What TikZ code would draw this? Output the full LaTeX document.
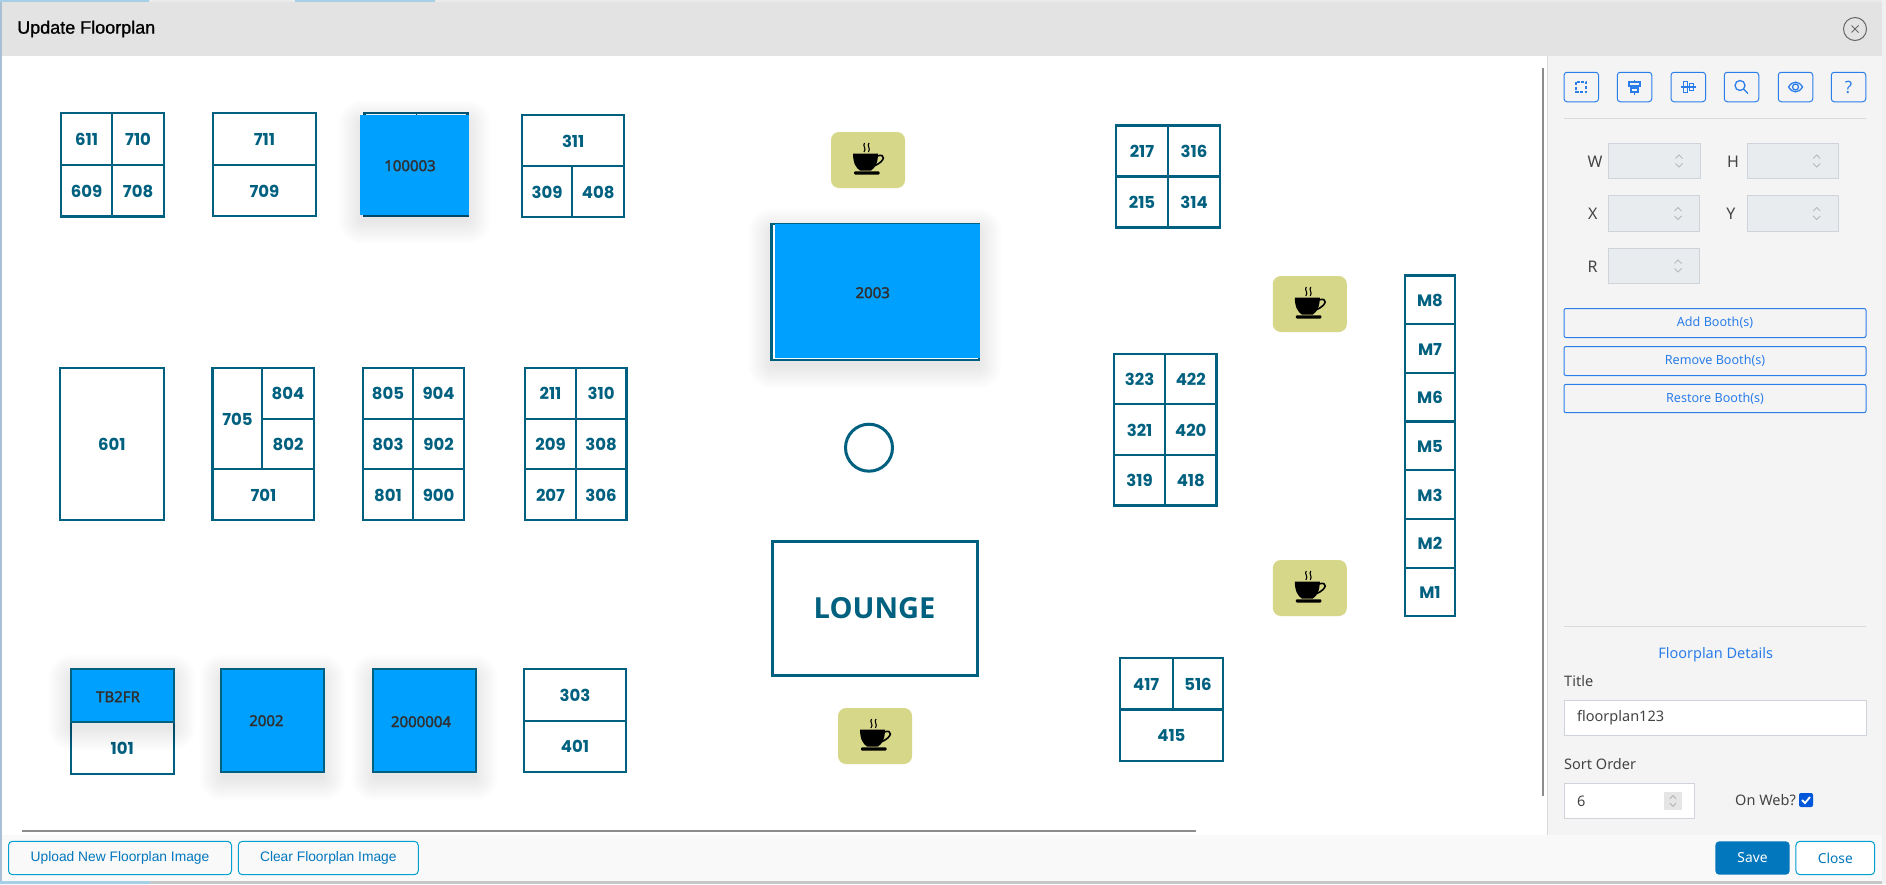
\documentclass[tikz,border=0pt]{standalone}
\usepackage{fontspec}
\setmainfont{Noto Sans}
\newfontfamily\boothfont{Poppins}
\newfontfamily\loungefont{Open Sans}
\newfontfamily\bluefont[FakeBold=2]{Noto Sans}
\newfontfamily\robofont{Liberation Sans}
\newfontfamily\titlefont[FakeBold=1]{Liberation Sans}
\usetikzlibrary{positioning}

\definecolor{boothline}{HTML}{00607F}
\definecolor{boothblue}{HTML}{00A0FF}
\definecolor{tilecolor}{HTML}{D6D788}
\definecolor{panelblue}{HTML}{2B7DE9}
\definecolor{footblue}{HTML}{0277BD}
\definecolor{inputfill}{HTML}{E9ECEF}
\definecolor{inputline}{HTML}{CED4DA}
\definecolor{labelgrey}{HTML}{444444}
\definecolor{edgeblue}{HTML}{A9C0D4}

\newcommand{\fsz}[1]{\fontsize{#1}{#1}\selectfont}
\newcommand{\softshadow}[4]{\foreach \r in {1,2,...,24}{\fill[black,opacity=.0045,rounded corners=\r] (#1-\r,#2-\r+7) rectangle (#3+\r,#4+\r+7);}}

\tikzset{
  booth/.style={draw=boothline,line width=2.2pt,fill=white,inner sep=0pt,text=boothline,text height=13pt,text depth=0pt,font=\boothfont\bfseries\fsz{16.5}},
  cell/.style={minimum width=50.6pt,minimum height=50.6pt,node distance=50.6pt},
  bigcell/.style={minimum width=51.6pt,minimum height=51.6pt,node distance=51.6pt},
  mcell/.style={minimum width=49.7pt,minimum height=48.7pt,node distance=48.7pt},
  wide/.style={minimum width=#1pt,minimum height=51.5pt},
  bluebox/.style={fill=boothblue,inner sep=0pt},
  bluetext/.style={text=labelgrey!70!black,font=\bluefont\fsz{15}},
  tile/.style={fill=tilecolor,rounded corners=8pt,minimum width=74pt,minimum height=56pt,inner sep=0pt},
  iconbtn/.style={draw=panelblue,line width=1pt,rounded corners=3pt,minimum width=34.5pt,minimum height=29.5pt,inner sep=0pt,text=panelblue,font=\fsz{17}},
  wideBtn/.style={draw=panelblue,line width=1pt,rounded corners=2pt,minimum width=302pt,minimum height=29pt,inner sep=0pt,text=panelblue,font=\fsz{12.6}},
  inputbox/.style={draw=inputline,line width=1pt,fill=inputfill,minimum width=91.5pt,minimum height=35.5pt,inner sep=0pt},
  whitebox/.style={draw=inputline,line width=1pt,fill=white,minimum height=35.5pt,inner sep=0pt},
  axislabel/.style={text=labelgrey,font=\fsz{16}},
  paneltext/.style={text=labelgrey,anchor=west,inner sep=0pt,font=\fsz{14.5}},
  footbtn/.style={draw=footblue!70!cyan,line width=1pt,rounded corners=4pt,minimum height=33.4pt,inner sep=0pt,text=footblue,font=\robofont\fsz{13.8}},
  iconline/.style={draw=panelblue,line width=1.3pt},
  spinline/.style={draw=black!28,line width=1pt},
  spinarrows/.pic={
    \draw[spinline] (-3.5,-2.5) -- (0,-6) -- (3.5,-2.5);
    \draw[spinline] (-3.5,2.5) -- (0,6) -- (3.5,2.5);
  },
  coffeecup/.pic={
    \fill[black] (-15,-6.5) -- (10,-6.5) .. controls (10,3) and (7,8) .. (3,10.5) -- (-8,10.5) .. controls (-12,8) and (-15,3) .. (-15,-6.5) -- cycle;
    \draw[black,line width=1.6pt] (9,-4) .. controls (18,-7) and (18,1) .. (6,6);
    \fill[black,rounded corners=1pt] (-14,11.3) rectangle (11.5,14.5);
    \draw[black,line width=1.1pt] (-3.5,-17) .. controls (-6,-14) and (-1,-12) .. (-4,-8);
    \draw[black,line width=1.1pt] (1,-17) .. controls (-1.5,-14) and (3,-12) .. (.5,-8);
  }
}

\begin{document}
\begin{tikzpicture}[x=1pt,y=-1pt]
\useasboundingbox (0,0) rectangle (1886,884);

% window
\fill[white] (0,0) rectangle (1886,884);
\fill[black!22] (0,881) rectangle (1886,884);
\fill[black!6] (1882,0) rectangle (1886,884);
\fill[edgeblue] (0,0) rectangle (2,884);
\fill[black!8] (2,0) rectangle (1882,56);
\fill[footblue!35!white] (0,0) rectangle (149,2) (295,0) rectangle (435,2) (0,881) rectangle (150,884);
\fill[black!11] (2,2) rectangle (1882,56);

\node[anchor=west,inner sep=0pt,font=\titlefont\fsz{18}] (title) at (17,29) {Update Floorplan};
\node[circle,draw=black!60,line width=1pt,minimum size=23pt,inner sep=0pt] (closeX) at (1855,29) {};
\draw[black!60,line width=1pt] ([shift={(-3.5,-3.5)}]closeX.center) -- ([shift={(3.5,3.5)}]closeX.center);
\draw[black!60,line width=1pt] ([shift={(3.5,-3.5)}]closeX.center) -- ([shift={(-3.5,3.5)}]closeX.center);

% scroll edges
\draw[black!45,line width=2pt] (1543,68) -- (1543,796);
\draw[black!45,line width=2pt] (22,831) -- (1196,831);

% top row
\node[booth,bigcell] (b611) at (86.5,139) {611};
\node[booth,bigcell,right of=b611] (b710) {710};
\node[booth,bigcell,below of=b611] (b609) {609};
\node[booth,bigcell,below of=b710] (b708) {708};

\node[booth,wide=103] (b711) at (264.5,139) {711};
\node[booth,wide=103,below of=b711,node distance=51.5pt] (b709) {709};

\node[booth,minimum width=103pt,minimum height=103pt] (bhidden) at (416,164.5) {};
\draw[boothline,line width=1pt] (bhidden.north) -- ++(0,3);
\softshadow{362}{117}{467}{213}
\node[bluebox,minimum width=109.4pt,minimum height=100pt] (blue100003) at (414.7,165) {};
\node[bluetext] (t100003) at (410,165.7) {100003};

\node[booth,wide=102.2] (b311) at (573.2,140.5) {311};
\node[booth,minimum width=50pt,minimum height=51pt] (b309) at (547,191.5) {309};
\node[booth,minimum width=52pt,minimum height=51pt] (b408) at (598.3,191.5) {408};

% middle row
\node[booth,minimum width=103.6pt,minimum height=152pt] (b601) at (111.8,444) {601};

\node[booth,minimum width=50pt,minimum height=101pt] (b705) at (237.5,418.5) {705};
\node[booth,cell,minimum width=52.6pt] (b804) at (288,393.3) {804};
\node[booth,cell,minimum width=52.6pt,below of=b804] (b802) {802};
\node[booth,wide=101.8] (b701) at (263.4,494.5) {701};

\node[booth,cell] (b805) at (388,393.3) {805};
\node[booth,cell,right of=b805] (b904) {904};
\node[booth,cell,below of=b805] (b803) {803};
\node[booth,cell,below of=b904] (b902) {902};
\node[booth,cell,below of=b803] (b801) {801};
\node[booth,cell,below of=b902] (b900) {900};

\node[booth,cell] (b211) at (550.5,393.3) {211};
\node[booth,cell,right of=b211] (b310) {310};
\node[booth,cell,below of=b211] (b209) {209};
\node[booth,cell,below of=b310] (b308) {308};
\node[booth,cell,below of=b209] (b207) {207};
\node[booth,cell,below of=b308] (b306) {306};

% bottom row
\node[booth,minimum width=103pt,minimum height=52.4pt] (b101) at (122.3,748) {101};
\softshadow{72}{671}{172}{720}
\node[booth,fill=boothblue,minimum width=103pt,minimum height=52.4pt] (bTB2FR) at (122.3,695.5) {};
\node[bluetext] (tTB2FR) at (118,696.7) {TB2FR};

\softshadow{223}{671}{322}{770}
\node[booth,fill=boothblue,minimum width=102.6pt,minimum height=103.3pt] (b2002) at (272.3,720.6) {};
\node[bluetext] (t2002) at (266.4,720.7) {2002};

\softshadow{375}{671}{474}{770}
\node[booth,fill=boothblue,minimum width=103pt,minimum height=103.3pt] (b2000004) at (424.5,720.6) {};
\node[bluetext] (t2000004) at (421,721.7) {2000004};

\node[booth,wide=102.7] (b303) at (575,695) {303};
\node[booth,wide=102.7,below of=b303,node distance=51.4pt] (b401) {401};

% centre
\node[tile] (coffeeA) at (868,160) {};
\pic at (coffeeA) {coffeecup};
\softshadow{772}{225}{978}{358}
\draw[boothline,line width=2pt,fill=white] (771.5,224) rectangle (979,359.7);
\node[bluebox,minimum width=205pt,minimum height=134.5pt] (b2003) at (877.5,291) {};
\draw[boothline,line width=3.4pt] (771.5,223) -- (771.5,360.7);
\node[bluetext] (t2003) at (872.7,292.7) {2003};
\node[circle,draw=boothline,line width=3pt,minimum size=47pt,inner sep=0pt] (pillar) at (869,447.7) {};
\node[draw=boothline,line width=3pt,minimum width=205pt,minimum height=134pt,inner sep=0pt,text=boothline,font=\loungefont\bfseries\fsz{29}] (lounge) at (874.5,608) {LOUNGE};
\node[tile] (coffeeD) at (875,736) {};
\pic at (coffeeD) {coffeecup};

% right side
\node[booth,cell,minimum width=51.8pt,minimum height=51pt] (b217) at (1142,151) {217};
\node[booth,cell,minimum width=51.8pt,minimum height=51pt,right of=b217,node distance=52pt] (b316) {316};
\node[booth,cell,minimum width=51.8pt,minimum height=51pt,below of=b217,node distance=51pt] (b215) {215};
\node[booth,cell,minimum width=51.8pt,minimum height=51pt,below of=b316,node distance=51pt] (b314) {314};

\node[booth,cell,minimum width=51.4pt] (b323) at (1139.6,379) {323};
\node[booth,cell,minimum width=51.4pt,right of=b323,node distance=51.2pt] (b422) {422};
\node[booth,cell,minimum width=51.4pt,below of=b323] (b321) {321};
\node[booth,cell,minimum width=51.4pt,below of=b422] (b420) {420};
\node[booth,cell,minimum width=51.4pt,below of=b321] (b319) {319};
\node[booth,cell,minimum width=51.4pt,below of=b420] (b418) {418};

\node[booth,minimum width=52.8pt,minimum height=51.6pt] (b417) at (1146.2,683.8) {417};
\node[booth,minimum width=50pt,minimum height=51.6pt] (b516) at (1198,683.8) {516};
\node[booth,wide=103.2] (b415) at (1171.4,735.3) {415};

\node[tile] (coffeeB) at (1309.8,304) {};
\pic at (coffeeB) {coffeecup};
\node[tile] (coffeeC) at (1309.8,588) {};
\pic at (coffeeC) {coffeecup};

\node[booth,mcell] (M8) at (1430,299.8) {M8};
\foreach \lab [remember=\lab as \prev (initially M8)] in {M7,M6,M5,M3,M2,M1}
  \node[booth,mcell,below of=\prev] (\lab) {\lab};

% panel
\fill[black!4.5] (1547,56) rectangle (1882,835);
\draw[black!15,line width=1pt] (1547,56) -- (1547,835);

\node[iconbtn] (btnFrame) at (1581.3,87) {};
\draw[iconline,line width=2pt,dash pattern=on 3pt off 1.6pt] ([shift={(-5,-5)}]btnFrame.center) rectangle ([shift={(5,5)}]btnFrame.center);
\node[iconbtn] (btnAlignV) at (1634.5,87) {};
\draw[iconline] ([shift={(-5.5,-5)}]btnAlignV.center) rectangle ([shift={(5.5,-1)}]btnAlignV.center);
\draw[iconline] ([shift={(-3.5,1)}]btnAlignV.center) rectangle ([shift={(3.5,5)}]btnAlignV.center);
\draw[iconline] ([shift={(0,-7.5)}]btnAlignV.center) -- ([shift={(0,-5)}]btnAlignV.center);
\draw[iconline] ([shift={(0,-1)}]btnAlignV.center) -- ([shift={(0,1)}]btnAlignV.center);
\draw[iconline] ([shift={(0,5)}]btnAlignV.center) -- ([shift={(0,7.5)}]btnAlignV.center);
\node[iconbtn] (btnAlignH) at (1688.3,87) {};
\draw[iconline] ([shift={(-5,-5.5)}]btnAlignH.center) rectangle ([shift={(-1,5.5)}]btnAlignH.center);
\draw[iconline] ([shift={(1,-3.5)}]btnAlignH.center) rectangle ([shift={(5,3.5)}]btnAlignH.center);
\draw[iconline] ([shift={(-7.5,0)}]btnAlignH.center) -- ([shift={(7.5,0)}]btnAlignH.center);
\node[iconbtn] (btnSearch) at (1741.5,87) {};
\draw[iconline] ([shift={(-1.5,-1.5)}]btnSearch.center) circle (5);
\draw[iconline] ([shift={(2.2,2.2)}]btnSearch.center) -- ([shift={(6.5,6.5)}]btnSearch.center);
\node[iconbtn] (btnEye) at (1795.5,87) {};
\draw[iconline] ([shift={(-7,0)}]btnEye.center) .. controls ([shift={(-3,-6.5)}]btnEye.center) and ([shift={(3,-6.5)}]btnEye.center) .. ([shift={(7,0)}]btnEye.center) .. controls ([shift={(3,6.5)}]btnEye.center) and ([shift={(-3,6.5)}]btnEye.center) .. ([shift={(-7,0)}]btnEye.center);
\draw[iconline] (btnEye.center) circle (3);
\node[iconbtn] (btnHelp) at (1848.5,87) {?};
\draw[black!15,line width=1pt] (1564,118) -- (1866,118);

\node[axislabel] (labW) at (1595,161.7) {W};
\node[inputbox,minimum width=92.4pt] (inW) at (1654.5,161) {};
\pic at (1679,161) {spinarrows};
\node[axislabel] (labH) at (1733,161.7) {H};
\node[inputbox] (inH) at (1793,161) {};
\pic at (1816.7,161) {spinarrows};
\node[axislabel] (labX) at (1592.7,213.3) {X};
\node[inputbox,minimum height=36.4pt] (inX) at (1654,213.5) {};
\pic at (1678,213.5) {spinarrows};
\node[axislabel] (labY) at (1731,213.3) {Y};
\node[inputbox,minimum height=36.4pt] (inY) at (1793,213.5) {};
\pic at (1816.7,213.5) {spinarrows};
\node[axislabel] (labR) at (1592.7,266.7) {R};
\node[inputbox] (inR) at (1654,266) {};
\pic at (1678,266) {spinarrows};

\node[wideBtn] (btnAdd) at (1715,323) {Add Booth(s)};
\node[wideBtn] (btnRemove) at (1715,361) {Remove Booth(s)};
\node[wideBtn,minimum height=28.4pt] (btnRestore) at (1715,398.5) {Restore Booth(s)};

\draw[black!15,line width=1pt] (1564,626.3) -- (1866,626.3);
\node[text=panelblue,font=\fsz{14.5}] (details) at (1715.7,654.7) {Floorplan Details};
\node[paneltext] (labTitle) at (1564,680.7) {Title};
\node[whitebox,minimum width=302pt] (inTitle) at (1715,718) {};
\node[paneltext] (valTitle) at (1577,718) {floorplan123};
\node[paneltext] (labSort) at (1564,763.7) {Sort Order};
\node[whitebox,minimum width=130.7pt] (inSort) at (1629.4,801) {};
\node[paneltext] (valSort) at (1577,801) {6};
\node[fill=black!10,minimum width=18pt,minimum height=18pt,inner sep=0pt] (spinSort) at (1673,801) {};
\pic[scale=.9] at (spinSort) {spinarrows};
\node[paneltext] (labWeb) at (1735,800) {On Web?};
\node[fill=blue!60!cyan!85!black,rounded corners=2pt,minimum size=14pt,inner sep=0pt] (chkWeb) at (1806,800) {};
\draw[white,line width=1.8pt] ([shift={(-4,0)}]chkWeb.center) -- ([shift={(-1,3)}]chkWeb.center) -- ([shift={(4,-3)}]chkWeb.center);

% footer
\fill[black!2.5] (2,835) rectangle (1882,881);
\node[footbtn,minimum width=223pt] (btnUpload) at (120,858) {Upload New Floorplan Image};
\node[footbtn,minimum width=180pt] (btnClear) at (328.3,858) {Clear Floorplan Image};
\node[footbtn,draw=none,fill=footblue,text=white,minimum width=74.4pt,font=\fsz{13.8}] (btnSave) at (1752.5,858) {Save};
\node[footbtn,fill=white,minimum width=78.7pt,font=\fsz{13.8}] (btnClose) at (1835.3,858) {Close};
\end{tikzpicture}
\end{document}
